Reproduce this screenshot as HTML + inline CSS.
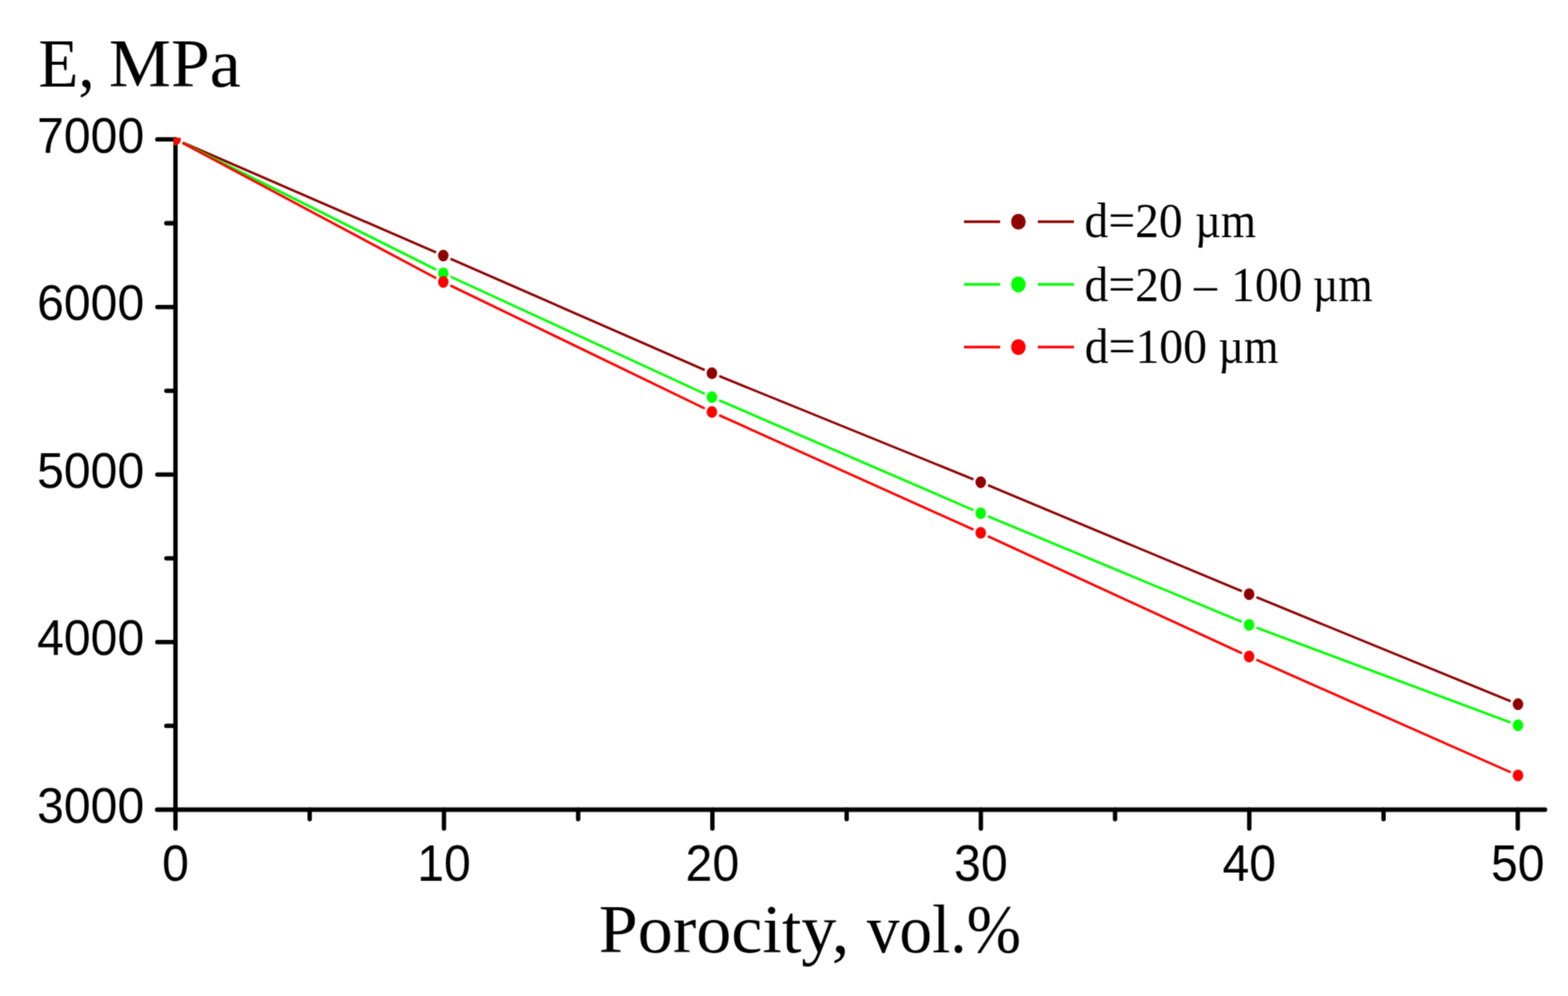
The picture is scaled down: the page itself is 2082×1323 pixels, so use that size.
<!DOCTYPE html><html><head><meta charset="utf-8"><title>E vs porosity</title><style>html,body{margin:0;padding:0;background:#fff;}svg{display:block}</style></head><body>
<svg width="2082" height="1323" viewBox="0 0 2082 1323">
<defs><filter id="soft" x="0" y="0" width="2082" height="1323" filterUnits="userSpaceOnUse" color-interpolation-filters="sRGB"><feConvolveMatrix order="3" kernelMatrix="0.04387 0.12171 0.04387 0.12171 0.33767 0.12171 0.04387 0.12171 0.04387" divisor="1" edgeMode="duplicate"/></filter></defs>
<rect width="2082" height="1323" fill="#fff"/>
<g filter="url(#soft)">
<g stroke="#000" stroke-width="5.8" fill="none" stroke-linecap="round">
<path d="M233.0,185.2V1100.5M208.6,1075.5H2051.6"/>
<path d="M208.9,185.2H233.0M208.9,407.8H233.0M208.9,630.3H233.0M208.9,852.9H233.0M220.9,296.5H233.0M220.9,519.1H233.0M220.9,741.6H233.0M220.9,964.2H233.0M589.5,1075.5V1100.5M945.9,1075.5V1100.5M1302.4,1075.5V1100.5M1658.8,1075.5V1100.5M2015.3,1075.5V1100.5M411.2,1075.5V1088M767.7,1075.5V1088M1124.2,1075.5V1088M1480.6,1075.5V1088M1837.1,1075.5V1088"/>
</g>
<g font-family="'Liberation Sans', Arial, sans-serif" font-size="64" fill="#000">
<text transform="translate(191.5,202.5) scale(1,1.036)" text-anchor="end">7000</text>
<text transform="translate(191.5,425.1) scale(1,1.036)" text-anchor="end">6000</text>
<text transform="translate(191.5,647.6) scale(1,1.036)" text-anchor="end">5000</text>
<text transform="translate(191.5,870.2) scale(1,1.036)" text-anchor="end">4000</text>
<text transform="translate(191.5,1092.8) scale(1,1.036)" text-anchor="end">3000</text>
<text transform="translate(233.0,1170.2) scale(1,1.075)" text-anchor="middle">0</text>
<text transform="translate(589.5,1170.2) scale(1,1.075)" text-anchor="middle">10</text>
<text transform="translate(945.9,1170.2) scale(1,1.075)" text-anchor="middle">20</text>
<text transform="translate(1302.4,1170.2) scale(1,1.075)" text-anchor="middle">30</text>
<text transform="translate(1658.8,1170.2) scale(1,1.075)" text-anchor="middle">40</text>
<text transform="translate(2015.3,1170.2) scale(1,1.075)" text-anchor="middle">50</text>
</g>
<g fill="#000">
<text transform="translate(51.00,114.70) scale(0.9652,1.0000)" font-family="'Liberation Serif', 'Times New Roman', serif" font-size="90">E,</text>
<text transform="translate(144.41,114.70) scale(1.0307,1.0000)" font-family="'Liberation Serif', 'Times New Roman', serif" font-size="90">MPa</text>
<text transform="translate(795.10,1265.30) scale(1.0345,1.0000)" font-family="'Liberation Serif', 'Times New Roman', serif" font-size="90">Porocity,</text>
<text transform="translate(1151.00,1265.30) scale(0.9641,1.0000)" font-family="'Liberation Serif', 'Times New Roman', serif" font-size="90">vol.%</text>
</g>
<defs><clipPath id="c"><rect x="230.5" y="183" width="1900" height="893"/></clipPath></defs>
<g clip-path="url(#c)">
<path d="M242.6,189.2L579.0,335.3M598.2,343.7L935.7,491.5M955.0,499.6L1292.5,636.7M1311.9,644.6L1648.9,785.3M1668.3,793.3L2005.9,931.4" stroke="#8e0000" stroke-width="3.2" fill="none"/>
<ellipse cx="233.0" cy="185.0" rx="7.0" ry="7.8" fill="#8e0000"/>
<ellipse cx="588.6" cy="339.5" rx="7.0" ry="7.8" fill="#8e0000"/>
<ellipse cx="945.3" cy="495.7" rx="7.0" ry="7.8" fill="#8e0000"/>
<ellipse cx="1302.2" cy="640.6" rx="7.0" ry="7.8" fill="#8e0000"/>
<ellipse cx="1658.6" cy="789.3" rx="7.0" ry="7.8" fill="#8e0000"/>
<ellipse cx="2015.6" cy="935.4" rx="7.0" ry="7.8" fill="#8e0000"/>
<path d="M242.4,189.7L579.2,358.3M598.1,367.4L935.8,523.1M954.9,531.7L1292.6,677.6M1311.9,685.8L1648.9,826.1M1668.4,833.8L2005.8,959.7" stroke="#00ff00" stroke-width="3.2" fill="none"/>
<ellipse cx="233.0" cy="185.0" rx="7.0" ry="7.8" fill="#00ff00"/>
<ellipse cx="588.6" cy="363.0" rx="7.0" ry="7.8" fill="#00ff00"/>
<ellipse cx="945.3" cy="527.5" rx="7.0" ry="7.8" fill="#00ff00"/>
<ellipse cx="1302.2" cy="681.8" rx="7.0" ry="7.8" fill="#00ff00"/>
<ellipse cx="1658.6" cy="830.1" rx="7.0" ry="7.8" fill="#00ff00"/>
<ellipse cx="2015.6" cy="963.4" rx="7.0" ry="7.8" fill="#00ff00"/>
<path d="M242.3,189.9L579.3,369.7M598.1,379.2L935.8,542.6M954.9,551.5L1292.6,703.5M1311.7,712.2L1649.1,867.7M1668.2,876.3L2006.0,1025.9" stroke="#ff0000" stroke-width="3.2" fill="none"/>
<ellipse cx="233.0" cy="185.0" rx="7.0" ry="7.8" fill="#ff0000"/>
<ellipse cx="588.6" cy="374.6" rx="7.0" ry="7.8" fill="#ff0000"/>
<ellipse cx="945.3" cy="547.2" rx="7.0" ry="7.8" fill="#ff0000"/>
<ellipse cx="1302.2" cy="707.8" rx="7.0" ry="7.8" fill="#ff0000"/>
<ellipse cx="1658.6" cy="872.1" rx="7.0" ry="7.8" fill="#ff0000"/>
<ellipse cx="2015.6" cy="1030.1" rx="7.0" ry="7.8" fill="#ff0000"/>
</g>
<path d="M1280,294.5H1328M1378,294.5H1426" stroke="#8e0000" stroke-width="3.6" fill="none"/>
<ellipse cx="1352.2" cy="294.5" rx="9.7" ry="10.6" fill="#8e0000"/>
<path d="M1280,377.8H1328M1378,377.8H1426" stroke="#00ff00" stroke-width="3.6" fill="none"/>
<ellipse cx="1352.2" cy="377.8" rx="9.7" ry="10.6" fill="#00ff00"/>
<path d="M1280,461.0H1328M1378,461.0H1426" stroke="#ff0000" stroke-width="3.6" fill="none"/>
<ellipse cx="1352.2" cy="461.0" rx="9.7" ry="10.6" fill="#ff0000"/>
<g fill="#000">
<text transform="translate(1440.12,315.30) scale(0.9410,0.9800)" font-family="'Liberation Serif', 'Times New Roman', serif" font-size="67">d=20</text>
<text transform="translate(1586.72,315.30) scale(0.8920,0.9800)" font-family="'Liberation Serif', 'Times New Roman', serif" font-size="67">µm</text>
<text transform="translate(1440.11,399.80) scale(0.9425,0.9800)" font-family="'Liberation Serif', 'Times New Roman', serif" font-size="67">d=20</text>
<text transform="translate(1585.60,399.80) scale(0.9059,0.9800)" font-family="'Liberation Serif', 'Times New Roman', serif" font-size="67">–</text>
<text transform="translate(1634.77,399.80) scale(0.9391,0.9800)" font-family="'Liberation Serif', 'Times New Roman', serif" font-size="67">100</text>
<text transform="translate(1743.25,399.80) scale(0.8750,0.9800)" font-family="'Liberation Serif', 'Times New Roman', serif" font-size="67">µm</text>
<text transform="translate(1440.21,481.80) scale(0.9461,0.9800)" font-family="'Liberation Serif', 'Times New Roman', serif" font-size="67">d=100</text>
<text transform="translate(1617.84,481.80) scale(0.8784,0.9800)" font-family="'Liberation Serif', 'Times New Roman', serif" font-size="67">µm</text>
</g>
</g></svg></body></html>
